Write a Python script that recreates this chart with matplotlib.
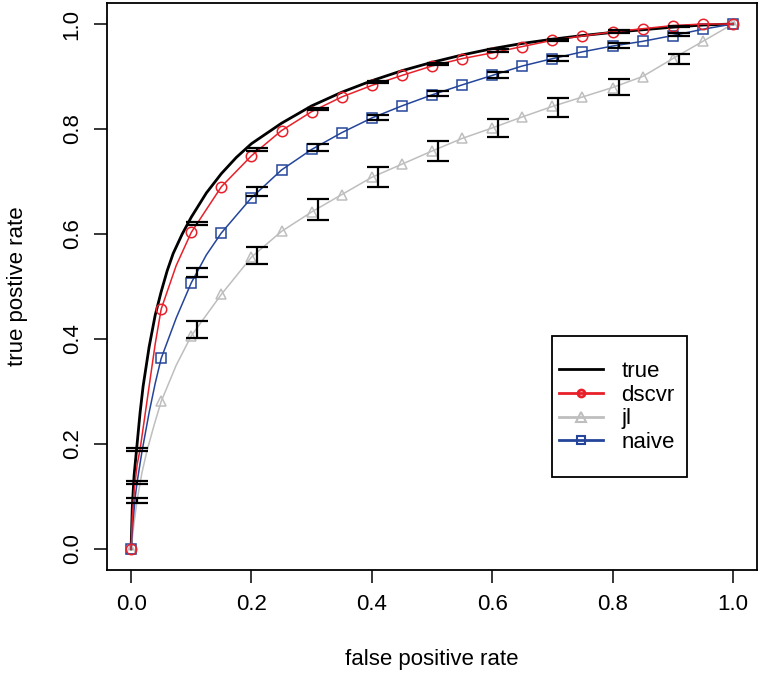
import matplotlib
matplotlib.use('Agg')
import matplotlib.pyplot as plt
from matplotlib.patches import Rectangle
from matplotlib.lines import Line2D

plt.rcParams['font.family'] = ['Liberation Sans', 'DejaVu Sans']

# marker positions (every 0.05 fpr)
fpr_pts = [0.0, 0.05, 0.1, 0.15, 0.2, 0.25, 0.3, 0.35, 0.4, 0.45, 0.5,
           0.55, 0.6, 0.65, 0.7, 0.75, 0.8, 0.85, 0.9, 0.95, 1.0]
dscvr_pts = [0.0, 0.457, 0.603, 0.690, 0.749, 0.797, 0.833, 0.861, 0.883, 0.902, 0.920,
             0.934, 0.945, 0.957, 0.969, 0.977, 0.985, 0.991, 0.997, 1.0, 1.0]
jl_pts = [0.0, 0.281, 0.406, 0.485, 0.556, 0.605, 0.642, 0.675, 0.708, 0.733, 0.758,
          0.782, 0.802, 0.823, 0.843, 0.861, 0.879, 0.900, 0.934, 0.967, 1.0]
naive_pts = [0.0, 0.363, 0.507, 0.602, 0.669, 0.722, 0.761, 0.793, 0.821, 0.844, 0.865,
             0.884, 0.902, 0.920, 0.934, 0.947, 0.958, 0.967, 0.978, 0.990, 1.0]

dscvr_head_fpr = [0.002, 0.005, 0.01, 0.015, 0.02, 0.03, 0.04, 0.075]
dscvr_head_tpr = [0.06, 0.11, 0.16, 0.19, 0.23, 0.31, 0.39, 0.54]
jl_head_fpr = [0.005, 0.01, 0.018, 0.026, 0.038, 0.075]
jl_head_tpr = [0.05, 0.093, 0.145, 0.185, 0.235, 0.35]
naive_head_fpr = [0.003, 0.007, 0.01, 0.018, 0.03, 0.04, 0.075, 0.125]
naive_head_tpr = [0.05, 0.10, 0.127, 0.185, 0.26, 0.315, 0.44, 0.56]

# the "true" curve
true_fpr = [0.0, 0.002, 0.005, 0.01, 0.015, 0.02, 0.03, 0.04, 0.05, 0.06, 0.07,
            0.085, 0.1, 0.125, 0.15, 0.175, 0.2, 0.25, 0.3, 0.35, 0.4, 0.45,
            0.5, 0.55, 0.6, 0.65, 0.7, 0.75, 0.8, 0.85, 0.9, 0.95, 1.0]
true_tpr = [0.0, 0.08, 0.14, 0.2, 0.26, 0.31, 0.385, 0.445, 0.49, 0.53, 0.563,
            0.6, 0.632, 0.678, 0.715, 0.746, 0.772, 0.811, 0.844, 0.870, 0.892, 0.911,
            0.927, 0.941, 0.953, 0.963, 0.971, 0.978, 0.984, 0.989, 0.994, 0.998, 1.0]

# error bars (low, high), drawn at fpr + 0.01
err_fpr = [0.01, 0.11, 0.21, 0.31, 0.41, 0.51, 0.61, 0.71, 0.81, 0.91]
dscvr_lo = [0.187, 0.617, 0.759, 0.836, 0.887, 0.921, 0.947, 0.967, 0.983, 0.994]
dscvr_hi = [0.192, 0.623, 0.764, 0.840, 0.891, 0.925, 0.952, 0.972, 0.988, 0.997]
naive_lo = [0.123, 0.519, 0.672, 0.758, 0.817, 0.862, 0.898, 0.929, 0.955, 0.977]
naive_hi = [0.130, 0.536, 0.689, 0.771, 0.827, 0.872, 0.909, 0.939, 0.964, 0.983]
jl_lo = [0.088, 0.401, 0.543, 0.627, 0.690, 0.739, 0.785, 0.823, 0.865, 0.923]
jl_hi = [0.098, 0.434, 0.575, 0.666, 0.728, 0.778, 0.819, 0.859, 0.895, 0.943]

RED = '#e8202a'
GRAY = '#bebebe'
BLUE = '#24459a'
FS = 16


def merge(head_x, head_y, xs, ys):
    pairs = sorted(zip(list(head_x) + list(xs), list(head_y) + list(ys)))
    return [p[0] for p in pairs], [p[1] for p in pairs]


fig = plt.figure(figsize=(7.6, 6.82), dpi=100)
ax = fig.add_axes([107 / 760, 1 - 570 / 682, 650 / 760, 567 / 682])

ax.plot(true_fpr, true_tpr, color='black', lw=2, label='true')

for hx, hy, pts, col, mk in [
        (jl_head_fpr, jl_head_tpr, jl_pts, GRAY, '^'),
        (naive_head_fpr, naive_head_tpr, naive_pts, BLUE, 's'),
        (dscvr_head_fpr, dscvr_head_tpr, dscvr_pts, RED, 'o')]:
    lx, ly = merge(hx, hy, fpr_pts, pts)
    ax.plot(lx, ly, color=col, lw=1.1)
    ax.plot(fpr_pts, pts, linestyle='none', marker=mk, markersize=7.5,
            markerfacecolor='none', markeredgecolor=col, markeredgewidth=1.1)

for lo, hi in [(dscvr_lo, dscvr_hi), (naive_lo, naive_hi), (jl_lo, jl_hi)]:
    mid = [(a + b) / 2 for a, b in zip(lo, hi)]
    err = [[m - a for m, a in zip(mid, lo)], [b - m for m, b in zip(mid, hi)]]
    ax.errorbar(err_fpr, mid, yerr=err, fmt='none', ecolor='black',
                elinewidth=1.6, capsize=8, capthick=1.6)

ax.set_xlim(-0.04, 1.04)
ax.set_ylim(-0.04, 1.04)
ticks = [0.0, 0.2, 0.4, 0.6, 0.8, 1.0]
ax.set_xticks(ticks)
ax.set_yticks(ticks)
ax.set_xticklabels(['%.1f' % t for t in ticks])
ax.set_yticklabels(['%.1f' % t for t in ticks], rotation=90, va='center')
ax.tick_params(direction='out', length=9.5, width=1.1, labelsize=FS, pad=8)
for s in ax.spines.values():
    s.set_linewidth(1.3)

ax.set_xlabel('false positive rate', fontsize=FS, labelpad=24)
ax.set_ylabel('true postive rate', fontsize=FS, labelpad=24)

# legend
handles = [Line2D([], [], color='black', lw=2),
           Line2D([], [], color=RED, lw=2, marker='o', markersize=5,
                  markerfacecolor='none', markeredgewidth=2),
           Line2D([], [], color=GRAY, lw=2, marker='^', markersize=7,
                  markerfacecolor='none', markeredgewidth=1.5),
           Line2D([], [], color=BLUE, lw=2, marker='s', markersize=6,
                  markerfacecolor='none', markeredgewidth=1.5)]
ax.legend(handles, ['true', 'dscvr', 'jl', 'naive'], loc='center left',
          bbox_to_anchor=((559 - 107) / 650, (570 - 407) / 567), frameon=False,
          fontsize=FS, borderpad=0, handlelength=2.0, handletextpad=0.8,
          labelspacing=0.12, borderaxespad=0)
ax.add_patch(Rectangle(((552 - 107) / 650, (570 - 477) / 567), 135 / 650, 141 / 567,
                       transform=ax.transAxes, fill=False, edgecolor='black', lw=1.3,
                       zorder=5))

fig.savefig('out.png', dpi=100)
